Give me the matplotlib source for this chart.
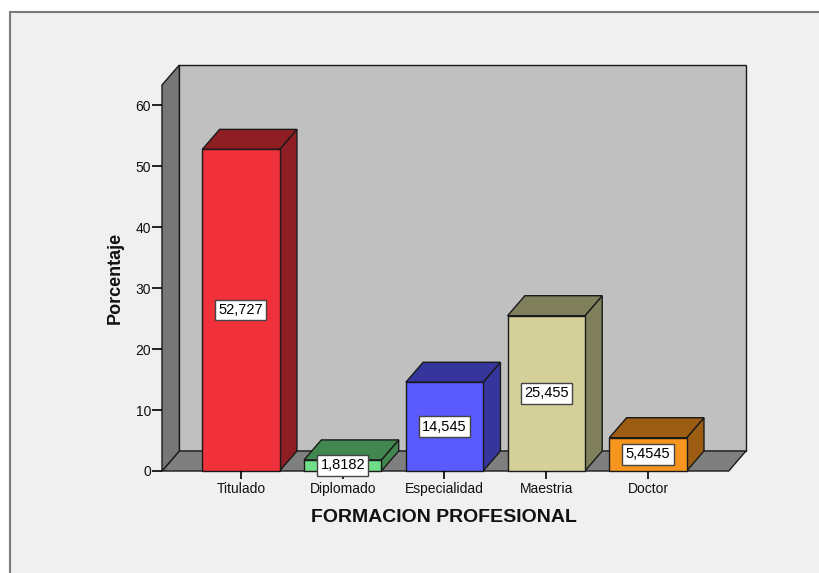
import matplotlib
matplotlib.use('Agg')
import matplotlib.pyplot as plt
from matplotlib.patches import Rectangle

plt.rcParams['font.family'] = ['Liberation Sans', 'DejaVu Sans']

# datos
categorias = ['Titulado', 'Diplomado', 'Especialidad', 'Maestria', 'Doctor']
porcentajes = [52.727, 1.8182, 14.545, 25.455, 5.4545]
etiquetas = ['52,727', '1,8182', '14,545', '25,455', '5,4545']
color_frente = ['#f0303a', '#70dd88', '#5a5aff', '#d4d09a', '#f7961e']
color_lado = ['#8e1e24', '#41874f', '#35359c', '#80805c', '#9c5c12']
y_ticks = [0, 10, 20, 30, 40, 50, 60]

W, H = 820, 573
fig = plt.figure(figsize=(W / 100, H / 100), dpi=100)
fig.patch.set_facecolor('white')

# marco exterior
marco = Rectangle((10 / W, -0.1), 1.2, 1.1 - 12 / H, transform=fig.transFigure,
                  facecolor='#f0f0f0', edgecolor='#7a7a7a', lw=1.5, zorder=-10)
fig.patches.append(marco)

ax = fig.add_axes([162 / W, (H - 471) / H, (746 - 162) / W, (471 - 65) / H])
ax.set_facecolor('none')
x0, x1 = -0.776, 4.963
y0, y1 = 0, 66.56
ax.set_xlim(x0, x1)
ax.set_ylim(y0, y1)
for s in ax.spines.values():
    s.set_visible(False)

# profundidad del efecto 3D
dx = 0.17
dy = 3.28
ew = 1.0
ec = '#1a1a1a'

# pared del fondo, suelo y pared izquierda
ax.fill([x0 + dx, x1, x1, x0 + dx], [dy, dy, y1, y1], facecolor='#c0c0c0', edgecolor=ec, lw=ew, clip_on=False)
ax.fill([x0, x1 - dx, x1, x0 + dx], [0, 0, dy, dy], facecolor='#7f7f7f', edgecolor=ec, lw=ew, clip_on=False)
ax.fill([x0, x0, x0 + dx, x0 + dx], [0, y1 - dy, y1, dy], facecolor='#777777', edgecolor=ec, lw=ew, clip_on=False)

w = 0.76
for i, v in enumerate(porcentajes):
    l, r = i - w / 2, i + w / 2
    ax.fill([r, r + dx, r + dx, r], [0, dy, v + dy, v], facecolor=color_lado[i], edgecolor=ec, lw=ew, clip_on=False)
    ax.fill([l, r, r + dx, l + dx], [v, v, v + dy, v + dy], facecolor=color_lado[i], edgecolor=ec, lw=ew, clip_on=False)
    ax.fill([l, r, r, l], [0, 0, v, v], facecolor=color_frente[i], edgecolor=ec, lw=ew, clip_on=False)
    ax.text(i, v / 2, etiquetas[i], ha='center', va='center', fontsize=10.5, color='black',
            bbox=dict(boxstyle='square,pad=0.22', facecolor='white', edgecolor='#444444', lw=1.0),
            zorder=5)

ax.set_yticks(y_ticks)
ax.set_xticks(range(len(categorias)))
ax.set_xticklabels(categorias)
ax.tick_params(axis='y', length=7, width=1.2, labelsize=10, pad=1, colors='black')
ax.tick_params(axis='x', length=6, width=1.2, labelsize=10, pad=2, colors='black')
for t in ax.get_xticklabels() + ax.get_yticklabels():
    t.set_color('#111111')

fig.text(444 / W, 1 - 517 / H, 'FORMACION PROFESIONAL', ha='center', va='center',
         fontsize=14, fontweight='bold', color='#111111')
fig.text(115 / W, 1 - 278 / H, 'Porcentaje', ha='center', va='center', rotation=90,
         fontsize=13, fontweight='bold', color='#111111')

fig.savefig('out.png', dpi=100, facecolor=fig.get_facecolor())
